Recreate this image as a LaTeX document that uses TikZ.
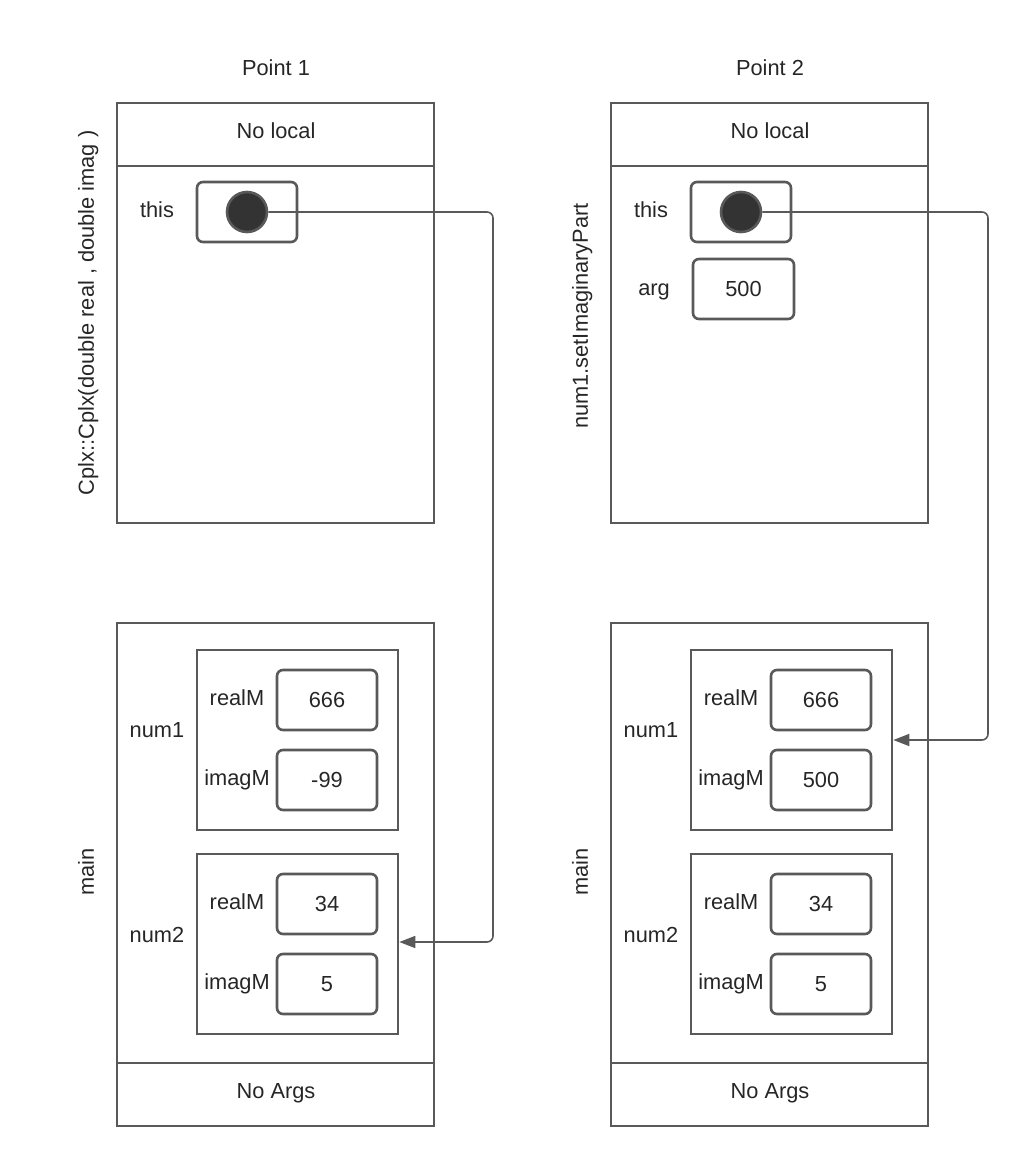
\documentclass[tikz,border=0pt]{standalone}
\usepackage{fontspec}
\setmainfont{Liberation Sans}
\usetikzlibrary{arrows.meta}
\definecolor{ink}{HTML}{595959}
\definecolor{dot}{HTML}{333333}
\begin{document}
\begin{tikzpicture}[x=1pt,y=-1pt,
  frame/.style={draw=ink,line width=2.6pt},
  group/.style={draw=ink,line width=2.6pt},
  cell/.style={draw=ink,line width=2.6pt,rounded corners=6pt},
  txt/.style={font=\fontsize{21.8}{26}\selectfont,text=black!85,inner sep=0pt,text height=15.6pt,text depth=0pt},
  link/.style={draw=ink,line width=1.6pt,rounded corners=6pt,-{Triangle[length=16pt,width=12pt]}}]
\useasboundingbox (0,0) rectangle (1028,1167);

% ---------- Point 1 ----------
\node[txt] (p1) at (276,68) {Point 1};
\draw[frame] (117,103) rectangle (434,523);
\draw[frame] (117,166) -- (434,166);
\node[txt] (loc1) at (276,131) {No local};
\node[txt,rotate=90] (fn1) at (86,313) {Cplx::Cplx(double real , double imag )};
\node[txt] (this1) at (157,210) {this};
\node[cell,minimum width=100pt,minimum height=60pt,inner sep=0pt] (tb1) at (247,212) {};
\node[circle,draw=ink,line width=2.6pt,fill=dot,minimum size=40pt,inner sep=0pt] (ptr1) at (247,212) {};

\draw[frame] (117,623) rectangle (434,1126);
\draw[frame] (117,1063) -- (434,1063);
\node[txt] (args1) at (276,1091) {No Args};
\node[txt,rotate=90] (main1) at (86,872) {main};

\node[group,minimum width=201pt,minimum height=180pt,inner sep=0pt] (a1) at (297.5,740) {};
\node[txt] (a1n) at (157,730) {num1};
\node[txt] (a1rl) at (237,698) {realM};
\node[cell,minimum width=100pt,minimum height=60pt,txt] (a1rv) at (327,700) {666};
\node[txt] (a1il) at (237,778) {imagM};
\node[cell,minimum width=100pt,minimum height=60pt,txt] (a1iv) at (327,780) {-99};

\node[group,minimum width=201pt,minimum height=180pt,inner sep=0pt] (b1) at (297.5,944) {};
\node[txt] (b1n) at (157,935) {num2};
\node[txt] (b1rl) at (237,902) {realM};
\node[cell,minimum width=100pt,minimum height=60pt,txt] (b1rv) at (327,904) {34};
\node[txt] (b1il) at (237,982) {imagM};
\node[cell,minimum width=100pt,minimum height=60pt,txt] (b1iv) at (327,984) {5};

\coordinate (t1a) at (493,212);
\coordinate (t1b) at (493,942);
\draw[link] (ptr1.east) -- (t1a) -- (t1b) -- (b1.east |- t1b);

% ---------- Point 2 ----------
\node[txt] (p2) at (770,68) {Point 2};
\draw[frame] (611,103) rectangle (928,523);
\draw[frame] (611,166) -- (928,166);
\node[txt] (loc2) at (770,131) {No local};
\node[txt,rotate=90] (fn2) at (580,316) {num1.setImaginaryPart};
\node[txt] (this2) at (651,210) {this};
\node[cell,minimum width=100pt,minimum height=60pt,inner sep=0pt] (tb2) at (741,212) {};
\node[circle,draw=ink,line width=2.6pt,fill=dot,minimum size=40pt,inner sep=0pt] (ptr2) at (741,212) {};
\node[txt] (argl) at (654,288) {arg};
\node[cell,minimum width=101pt,minimum height=60pt,txt] (argv) at (743.5,289) {500};

\draw[frame] (611,623) rectangle (928,1126);
\draw[frame] (611,1063) -- (928,1063);
\node[txt] (args2) at (770,1091) {No Args};
\node[txt,rotate=90] (main2) at (580,872) {main};

\node[group,minimum width=201pt,minimum height=180pt,inner sep=0pt] (a2) at (791.5,740) {};
\node[txt] (a2n) at (651,730) {num1};
\node[txt] (a2rl) at (731,698) {realM};
\node[cell,minimum width=100pt,minimum height=60pt,txt] (a2rv) at (821,700) {666};
\node[txt] (a2il) at (731,778) {imagM};
\node[cell,minimum width=100pt,minimum height=60pt,txt] (a2iv) at (821,780) {500};

\node[group,minimum width=201pt,minimum height=180pt,inner sep=0pt] (b2) at (791.5,944) {};
\node[txt] (b2n) at (651,935) {num2};
\node[txt] (b2rl) at (731,902) {realM};
\node[cell,minimum width=100pt,minimum height=60pt,txt] (b2rv) at (821,904) {34};
\node[txt] (b2il) at (731,982) {imagM};
\node[cell,minimum width=100pt,minimum height=60pt,txt] (b2iv) at (821,984) {5};

\coordinate (t2a) at (988,212);
\coordinate (t2b) at (988,740);
\draw[link] (ptr2.east) -- (t2a) -- (t2b) -- (a2.east |- t2b);
\end{tikzpicture}
\end{document}
